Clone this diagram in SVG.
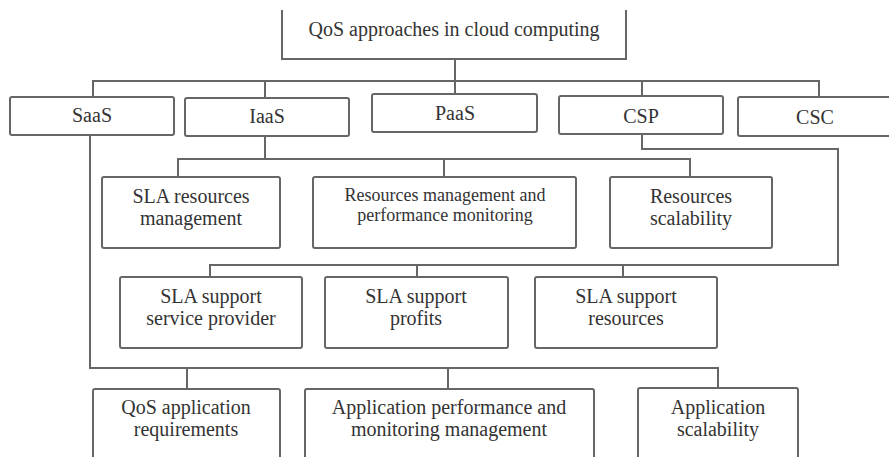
<svg xmlns="http://www.w3.org/2000/svg" width="889" height="457" viewBox="0 0 889 457">
<style>
.box{fill:#fff;stroke:#666;stroke-width:2}
.ln{fill:none;stroke:#666;stroke-width:2}
text{font-family:"Liberation Serif","Times New Roman",serif;font-size:20px;fill:#333;text-anchor:middle}
.sm{font-size:18px}
</style>
<rect x="0" y="0" width="889" height="457" fill="#fff"/>
<g id="connectors" class="ln">
<path d="M455,59 V94"/>
<path d="M93,97 V81 H819 V97"/>
<path d="M265,81 V98"/>
<path d="M642,81 V96"/>
<path d="M265,136 V159"/>
<path d="M178,177 V159 H690 V177"/>
<path d="M444,159 V177"/>
<path d="M642,134 V149 H838 V265 H210 V277"/>
<path d="M417,265 V277"/>
<path d="M623,265 V277"/>
<path d="M90,135 V368 H718 V389"/>
<path d="M187,368 V389"/>
<path d="M448,368 V389"/>
</g>
<g id="n-root"><path class="box" d="M282,10 V59 H626 V10"/><text x="454" y="36">QoS approaches in cloud computing</text></g>
<g id="n-saas"><rect class="box" x="10" y="97" width="164" height="38" rx="2"/><text x="92" y="122">SaaS</text></g>
<g id="n-iaas"><rect class="box" x="185" y="98" width="164" height="38" rx="2"/><text x="267" y="123">IaaS</text></g>
<g id="n-paas"><rect class="box" x="372" y="94" width="165" height="38" rx="2"/><text x="455" y="120">PaaS</text></g>
<g id="n-csp"><rect class="box" x="559" y="96" width="164" height="38" rx="2"/><text x="641" y="123">CSP</text></g>
<g id="n-csc"><rect class="box" x="738" y="97" width="160" height="39" rx="2"/><text x="815" y="124">CSC</text></g>
<g id="n-slares"><rect class="box" x="102" y="177" width="178" height="71" rx="2"/><text x="191" y="203">SLA resources</text><text x="191" y="225">management</text></g>
<g id="n-resmgmt"><rect class="box" x="313" y="177" width="263" height="71" rx="2"/><text class="sm" x="445" y="201">Resources management and</text><text class="sm" x="445" y="221">performance monitoring</text></g>
<g id="n-resscal"><rect class="box" x="610" y="177" width="162" height="71" rx="2"/><text x="691" y="203">Resources</text><text x="691" y="225">scalability</text></g>
<g id="n-slasp"><rect class="box" x="120" y="277" width="182" height="71" rx="2"/><text x="211" y="303">SLA support</text><text x="211" y="325">service provider</text></g>
<g id="n-slaprof"><rect class="box" x="325" y="277" width="183" height="71" rx="2"/><text x="416" y="303">SLA support</text><text x="416" y="325">profits</text></g>
<g id="n-slares2"><rect class="box" x="535" y="277" width="182" height="71" rx="2"/><text x="626" y="303">SLA support</text><text x="626" y="325">resources</text></g>
<g id="n-qosapp"><rect class="box" x="93" y="389" width="187" height="80" rx="2"/><text x="186" y="414">QoS application</text><text x="186" y="436">requirements</text></g>
<g id="n-appperf"><rect class="box" x="305" y="389" width="289" height="80" rx="2"/><text x="449" y="414">Application performance and</text><text x="449" y="436">monitoring management</text></g>
<g id="n-appscal"><rect class="box" x="638" y="388" width="160" height="81" rx="2"/><text x="718" y="414">Application</text><text x="718" y="436">scalability</text></g>
</svg>
